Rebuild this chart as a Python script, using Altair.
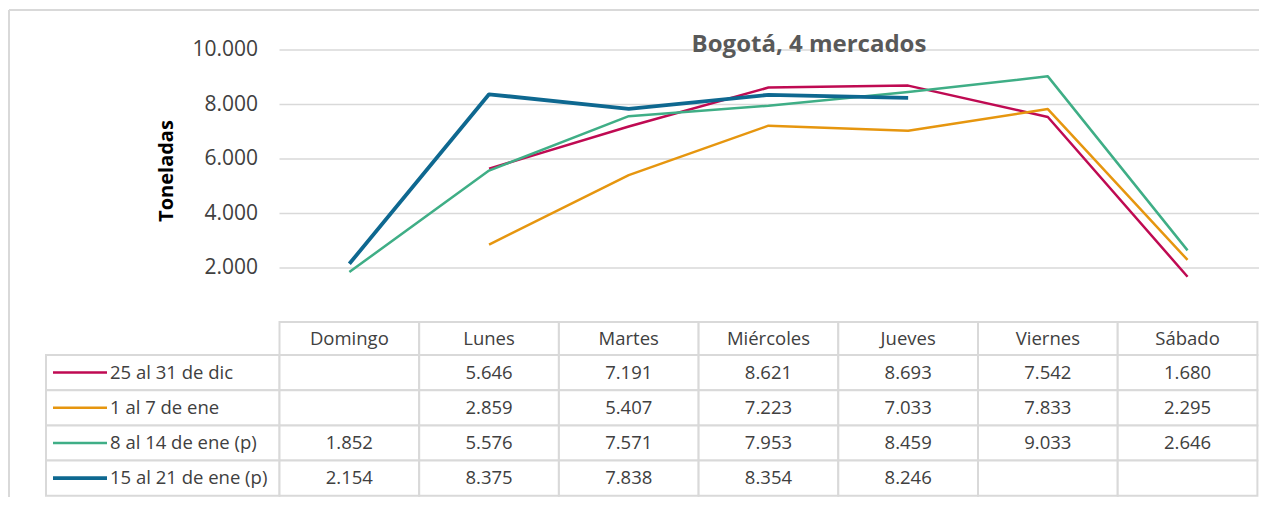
import altair as alt
import pandas as pd

# ---------------- data ----------------
DAYS = ["Domingo", "Lunes", "Martes", "Miércoles", "Jueves", "Viernes", "Sábado"]
SERIES = ["25 al 31 de dic", "1 al 7 de ene", "8 al 14 de ene (p)", "15 al 21 de ene (p)"]
S_DIC_25 = [None, 5646, 7191, 8621, 8693, 7542, 1680]
S_ENE_01 = [None, 2859, 5407, 7223, 7033, 7833, 2295]
S_ENE_08 = [1852, 5576, 7571, 7953, 8459, 9033, 2646]
S_ENE_15 = [2154, 8375, 7838, 8354, 8246, None, None]
Y_TICKS = [2000, 4000, 6000, 8000, 10000]
COLORS = ["#BF0A52", "#E6960F", "#3FAE86", "#0E6890"]
WIDTHS = [2.5, 2.5, 2.5, 3.8]
TITLE = "Bogotá, 4 mercados"
Y_TITLE = "Toneladas"

VALUES = [S_DIC_25, S_ENE_01, S_ENE_08, S_ENE_15]

# ---------------- layout ----------------
W, H = 1251, 489          # drawing area (page offset 8px)
M = 8
COL_X0, COL_W = 279.5, 139.7   # page x of first day column, column width
LEG_X0 = 46                    # page x of legend column
Y0_PAGE = 322.5                # page y of value 0
PX_PER_T = 272.5 / 10000.0
TBL_TOP = 322.0
HDR_H, ROW_H = 33.0, 35.2

def u(pagex):
    return (pagex - COL_X0) / COL_W

def v(pagey):
    return (Y0_PAGE - pagey) / PX_PER_T

def t(pagey):
    return (pagey - TBL_TOP) / ROW_H

X_DOM = [u(M), u(M + W)]
Y_DOM = [v(M + H), v(M)]
T_DOM = [t(M), t(M + H)]
HH = HDR_H / ROW_H

FONT = "Open Sans"
GRAY_TXT = "#404040"
GRID = "#D9D9D9"

def fmt(n):
    return f"{n:,}".replace(",", ".")

xs = alt.Scale(domain=X_DOM, nice=False, zero=False)
ys = alt.Scale(domain=Y_DOM, nice=False, zero=False)
ts = alt.Scale(domain=T_DOM, nice=False, zero=False, reverse=True)

# grid
df_grid = pd.DataFrame({"val": Y_TICKS, "x": [0.0] * len(Y_TICKS), "x2": [X_DOM[1]] * len(Y_TICKS),
                        "lab": [fmt(n) for n in Y_TICKS], "xl": [u(258)] * len(Y_TICKS)})
grid = alt.Chart(df_grid).mark_rule(color=GRID, strokeWidth=1.5).encode(
    x=alt.X("x:Q", scale=xs, axis=None), x2="x2:Q", y=alt.Y("val:Q", scale=ys, axis=None))
ticklab = alt.Chart(df_grid).mark_text(align="right", baseline="middle", font=FONT, fontSize=21,
                                       color=GRAY_TXT).encode(
    x=alt.X("xl:Q", scale=xs, axis=None), y=alt.Y("val:Q", scale=ys, axis=None), text="lab:N")

# lines, one layer per series (drawn in order)
line_layers = []
for s, vals, c, w in zip(SERIES, VALUES, COLORS, WIDTHS):
    d = pd.DataFrame([{"x": i + 0.5, "val": val} for i, val in enumerate(vals) if val is not None])
    line_layers.append(
        alt.Chart(d).mark_line(color=c, strokeWidth=w, strokeJoin="round").encode(
            x=alt.X("x:Q", scale=xs, axis=None), y=alt.Y("val:Q", scale=ys, axis=None)))

# ---------------- table ----------------
cells = []
for i, d in enumerate(DAYS):
    cells.append({"x": i, "x2": i + 1, "t": 0.0, "t2": HH})
for k in range(len(SERIES)):
    cells.append({"x": u(LEG_X0), "x2": 0.0, "t": HH + k, "t2": HH + k + 1})
    for i in range(len(DAYS)):
        cells.append({"x": i, "x2": i + 1, "t": HH + k, "t2": HH + k + 1})
df_cells = pd.DataFrame(cells)
cell_marks = alt.Chart(df_cells).mark_rect(fill="white", stroke=GRID, strokeWidth=2).encode(
    x=alt.X("x:Q", scale=xs, axis=None), x2="x2:Q",
    y=alt.Y("t:Q", scale=ts, axis=None), y2="t2:Q")

df_hdr = pd.DataFrame({"x": [i + 0.5 for i in range(len(DAYS))], "t": [HH / 2] * len(DAYS), "lab": DAYS})
hdr = alt.Chart(df_hdr).mark_text(font=FONT, fontSize=18.5, color=GRAY_TXT, baseline="middle").encode(
    x=alt.X("x:Q", scale=xs, axis=None), y=alt.Y("t:Q", scale=ts, axis=None), text="lab:N")

vrows = []
for k, vals in enumerate(VALUES):
    for i, val in enumerate(vals):
        if val is not None:
            vrows.append({"x": i + 0.5, "t": HH + k + 0.5, "lab": fmt(val)})
df_vals = pd.DataFrame(vrows)
vals_txt = alt.Chart(df_vals).mark_text(font=FONT, fontSize=18.5, color=GRAY_TXT, baseline="middle").encode(
    x=alt.X("x:Q", scale=xs, axis=None), y=alt.Y("t:Q", scale=ts, axis=None), text="lab:N")

leg_layers = []
for k, (s, c, w) in enumerate(zip(SERIES, COLORS, WIDTHS)):
    d = pd.DataFrame({"serie": [s], "x": [u(53)], "x2": [u(107)], "xt": [u(110)], "t": [HH + k + 0.5]})
    leg_layers.append(alt.Chart(d).mark_rule(color=c, strokeWidth=w).encode(
        x=alt.X("x:Q", scale=xs, axis=None), x2="x2:Q", y=alt.Y("t:Q", scale=ts, axis=None)))
    leg_layers.append(alt.Chart(d).mark_text(align="left", baseline="middle", font=FONT, fontSize=18.5,
                                             color=GRAY_TXT).encode(
        x=alt.X("xt:Q", scale=xs, axis=None), y=alt.Y("t:Q", scale=ts, axis=None), text="serie:N"))

# ---------------- frame & titles ----------------
frame_top = alt.Chart(pd.DataFrame({"a": [0]})).mark_rule(color=GRID, strokeWidth=2).encode(
    x=alt.value(1), x2=alt.value(W), y=alt.value(2))
frame_left = alt.Chart(pd.DataFrame({"a": [0]})).mark_rule(color=GRID, strokeWidth=2).encode(
    x=alt.value(1), y=alt.value(2), y2=alt.value(H))
title = alt.Chart(pd.DataFrame({"lab": [TITLE]})).mark_text(
    font=FONT, fontSize=24, fontWeight="bold", color="#595959", align="center", baseline="middle").encode(
    x=alt.value(809 - M), y=alt.value(45 - M), text="lab:N")
ytitle = alt.Chart(pd.DataFrame({"lab": [Y_TITLE]})).mark_text(
    font=FONT, fontSize=20, fontWeight="bold", color="black", align="center", baseline="middle",
    angle=270).encode(x=alt.value(167 - M), y=alt.value(171 - M), text="lab:N")

chart = alt.layer(
    frame_top, frame_left, grid, ticklab, cell_marks, hdr, vals_txt, *leg_layers,
    *line_layers, title, ytitle
).resolve_scale(y="independent").properties(
    width=W, height=H, padding=0, autosize=alt.AutoSizeParams(type="none")
).configure_view(stroke=None)

chart.save("out.html", embed_options={"renderer": "svg", "actions": False})
